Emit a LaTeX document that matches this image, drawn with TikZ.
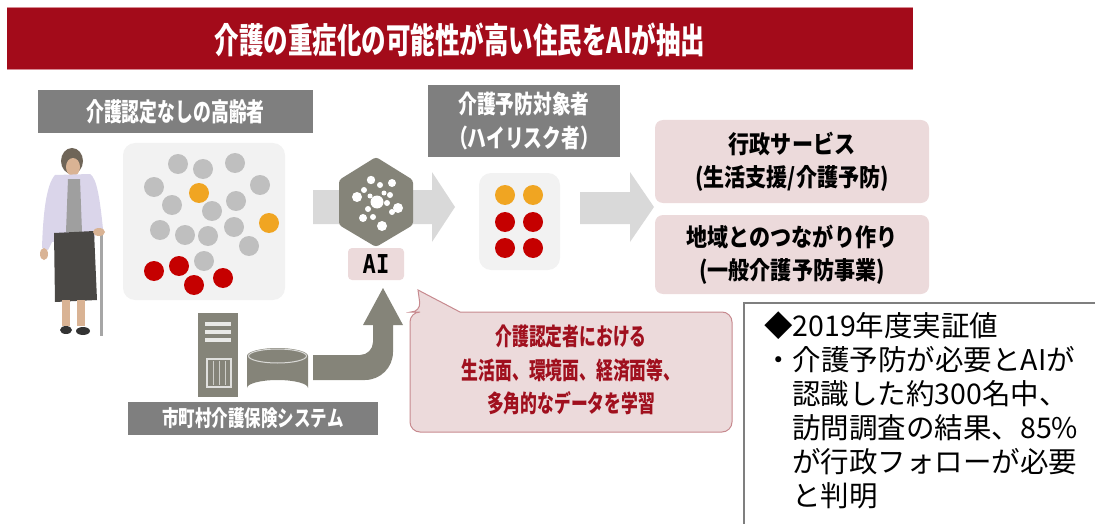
\documentclass[tikz,border=0pt]{standalone}
\usepackage{fontspec}
\newfontfamily\jp{Noto Sans CJK JP}
\newfontfamily\jpc[FakeStretch=0.75]{Noto Sans CJK JP}
\newfontfamily\jpe[FakeStretch=0.7]{Noto Sans CJK JP}
\newfontfamily\jpd[FakeStretch=0.86]{Noto Sans CJK JP}
\newfontfamily\aimono{DejaVu Sans Mono}
\definecolor{titlered}{HTML}{A30B1A}
\definecolor{titleedge}{HTML}{D68A93}
\definecolor{labelgray}{HTML}{7F7F7F}
\definecolor{icongray}{HTML}{858479}
\definecolor{arrowlight}{HTML}{D9D9D9}
\definecolor{boxlight}{HTML}{F2F2F2}
\definecolor{dotgray}{HTML}{BFBFBF}
\definecolor{dotorange}{HTML}{F0A522}
\definecolor{dotred}{HTML}{C50000}
\definecolor{pinkfill}{HTML}{ECDADB}
\definecolor{bubbleedge}{HTML}{C78A8F}
\definecolor{textred}{HTML}{A0101E}
\definecolor{skin}{HTML}{D9B394}
\definecolor{hair}{HTML}{6F6558}
\definecolor{lav}{HTML}{DAD5EA}
\definecolor{skirt}{HTML}{4A4845}
\begin{document}
\begin{tikzpicture}[x=1pt,y=-1pt,
  graylabel/.style={fill=labelgray,text=white,inner sep=0pt,align=center},
  pinkbox/.style={fill=pinkfill,rounded corners=8pt,inner sep=0pt,align=center,
    font=\jpd\bfseries\fontsize{24.5}{33}\selectfont},
  lightbox/.style={fill=boxlight,rounded corners=12pt},
  gdot/.style={fill=dotgray},
  odot/.style={fill=dotorange},
  rdot/.style={fill=dotred},
  wdot/.style={fill=white},
  notetext/.style={anchor=west,inner sep=0pt,font=\jp\fontsize{28.5}{30}\selectfont}]
\useasboundingbox (0,0) rectangle (1095,524);

% heading bar
\fill[titlered] (7,8) rectangle (913,70);
\draw[titleedge,line width=1pt] (7,8) -- (913,8) (7,70) -- (913,70);
\node[text=white,font=\jpe\bfseries\fontsize{35}{38}\selectfont] (title) at (460,40)
  {介護の重症化の可能性が高い住民をAIが抽出};

% elderly woman with a cane
\fill[hair] (72,161) ellipse (11 and 13);
\fill[skin] (73,167) ellipse (7 and 9);
\fill[lav] (55,175) -- (90,174) .. controls (97,178) and (100,200) .. (103,229)
  -- (96,233) -- (94,240) -- (52,242) -- (48,250) -- (42,248)
  .. controls (43,215) and (46,185) .. (55,175) -- cycle;
\fill[gray!75] (68,179) -- (80,179) -- (82,232) -- (66,232) -- cycle;
\fill[skirt] (54,233) -- (94,231) -- (97,300) -- (55,302) -- cycle;
\fill[skin] (44,254) ellipse (4 and 6);
\fill[skin] (62,300) rectangle (70,326);
\fill[skin] (77,300) rectangle (85,326);
\fill[black!80] (66,330) ellipse (6 and 4);
\fill[black!80] (83,331) ellipse (7 and 4);
\draw[gray!70,line width=3pt] (101,234) -- (101,336);
\fill[skin] (99,232) ellipse (6 and 4);

% residents without certification
\node[graylabel,minimum width=275pt,minimum height=43pt,
  font=\jpe\bfseries\fontsize{25.5}{27}\selectfont] (elders) at (175.5,111.5)
  {介護認定なしの高齢者};
\fill[lightbox] (123,143) rectangle (285,300);
\foreach \p in {(178,164),(203,169),(235,163),(154,187),(260,185),(172,205),
  (212,211),(236,201),(160,230),(185,235),(208,236),(234,227),(249,246),(204,261)}
  \fill[gdot] \p circle (10);
\foreach \p in {(199,193),(269,223)} \fill[odot] \p circle (10);
\foreach \p in {(154,271),(179,266),(194,285),(223,278)} \fill[rdot] \p circle (10);

% flow arrows
\fill[arrowlight] (313,190) -- (432,190) -- (432,172) -- (455,207) -- (432,242)
  -- (432,224) -- (313,224) -- cycle;
\fill[arrowlight] (580,192) -- (630,192) -- (630,172) -- (654,207) -- (630,242)
  -- (630,224) -- (580,224) -- cycle;

% AI hexagon
\fill[icongray,rounded corners=3pt] (376,157) -- (413,180) -- (413,225) -- (376,247)
  -- (339,225) -- (339,180) -- cycle;
\fill[wdot] (377,202) circle (6.5);
\foreach \x/\y/\r in {371/180/4.2,380/185/3,392/183/4,364/190/3,357/197/5,
  390/195/3,387/203/3,398/208/5,392/212/3,368/209/3,363/218/4,373/217/3,
  382/226/5,384/193/2.5,370/196/2.5}
  \fill[wdot] (\x,\y) circle (\r);
\node[fill=pinkfill,rounded corners=4pt,minimum width=56pt,minimum height=32pt,
  inner sep=0pt,font=\aimono\bfseries\fontsize{26}{28}\selectfont] (ai) at (376,264)
  {\scalebox{0.85}[1]{AI}};

% high-risk group
\node[graylabel,minimum width=192pt,minimum height=72pt,
  font=\jpc\bfseries\fontsize{25}{34}\selectfont] (target) at (524,121)
  {介護予防対象者\\（ハイリスク者）};
\fill[lightbox] (479,173) rectangle (560,270);
\foreach \p in {(505,195),(533,195)} \fill[odot] \p circle (10);
\foreach \p in {(505,222),(533,222),(505,248),(533,248)} \fill[rdot] \p circle (10);

% services
\node[pinkbox,minimum width=274pt,minimum height=83pt] (service) at (792,161.5)
  {行政サービス\\(生活支援/介護予防)};
\node[pinkbox,minimum width=274pt,minimum height=79pt] (community) at (792,254.5)
  {地域とのつながり作り\\(一般介護予防事業)};

% municipal care insurance system
\fill[icongray] (198,313) rectangle (238,397);
\foreach \y in {322,330,338} \fill[white!82!icongray] (205,\y) rectangle (231,\y+3.5);
\draw[white!75!icongray,line width=1.2pt] (207,359) rectangle (231,387);
\foreach \x in {213,219,225} \draw[white!60!icongray,line width=0.8pt] (\x,361) -- (\x,385);
\fill[icongray] (247,356) -- (247,388) arc[start angle=180,end angle=360,x radius=30.5,y radius=8]
  -- (308,356) -- cycle;
\fill[icongray] (277.5,356) ellipse (30.5 and 8);
\draw[white!70!icongray,line width=1pt] (277.5,356) ellipse (29 and 7);
\node[graylabel,minimum width=250pt,minimum height=33pt,
  font=\jpc\bfseries\fontsize{22}{24}\selectfont] (system) at (253,418)
  {市町村介護保険システム};
\fill[icongray] (313,355) -- (360,355) arc[start angle=90,end angle=0,radius=13]
  -- (373,325) -- (363,325) -- (383,288) -- (403,325) -- (393,325) -- (393,352)
  arc[start angle=0,end angle=90,radius=28] -- (313,380) -- cycle;

% learning bubble
\draw[fill=pinkfill,draw=bubbleedge,line width=1pt] (418,290) -- (460,312)
  [rounded corners=10pt] -- (732,312) -- (732,432) -- (410,432) -- (410,312)
  -- (421,312) [sharp corners] -- cycle;
\node[text=textred,align=center,inner sep=0pt,
  font=\jpe\bfseries\fontsize{24}{33.5}\selectfont] (learn) at (571,370)
  {介護認定者における\\生活面、環境面、経済面等、\\多角的なデータを学習};

% result note
\draw[labelgray,line width=1.2pt] (744,530) -- (744,303) -- (1100,303);
\node[notetext] (n1) at (764,326) {◆2019年度実証値};
\node[notetext] (n2) at (764,360) {・介護予防が必要とAIが};
\node[notetext] (n3) at (792,394) {認識した約300名中、};
\node[notetext] (n4) at (792,428) {訪問調査の結果、85\%};
\node[notetext] (n5) at (792,462) {が行政フォローが必要};
\node[notetext] (n6) at (792,496) {と判明};
\end{tikzpicture}
\end{document}
